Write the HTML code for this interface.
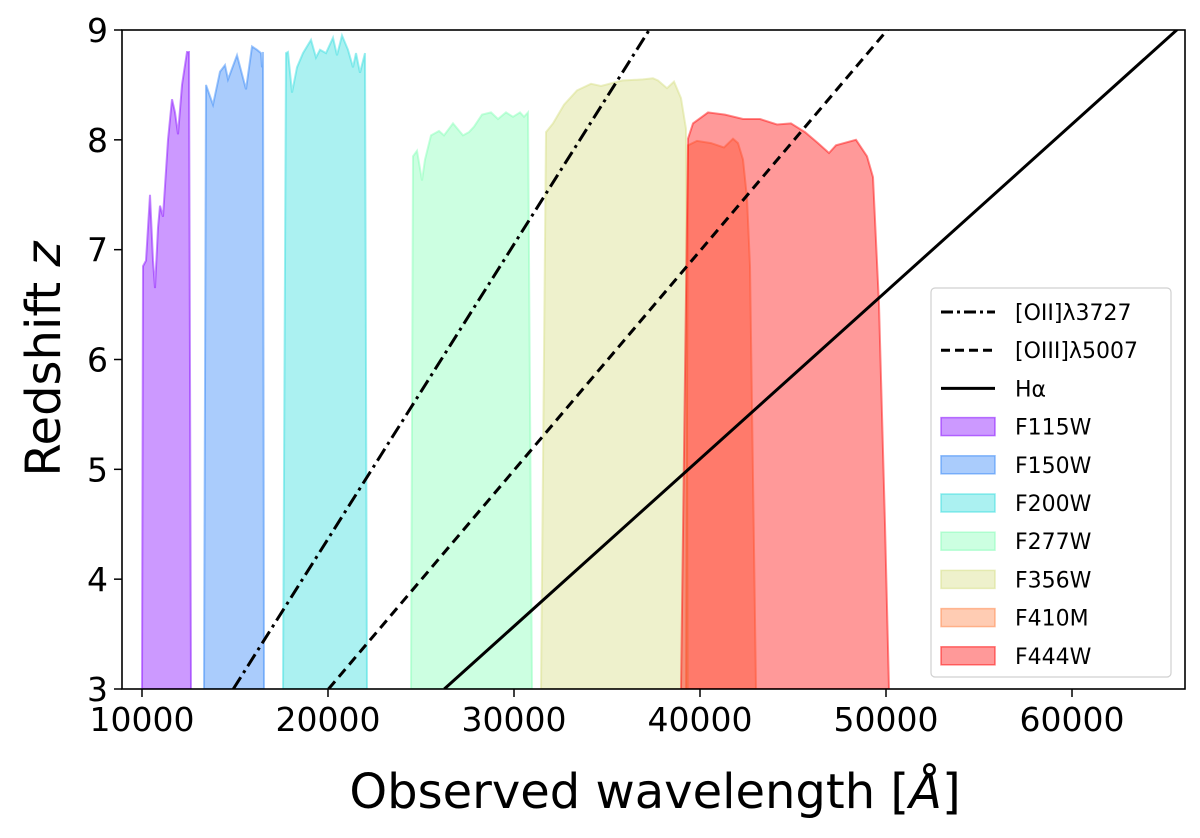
<!DOCTYPE html>
<html><head><meta charset="utf-8"><style>
html,body{margin:0;padding:0;background:#fff;}
svg{display:block;font-family:"DejaVu Sans","Liberation Sans",sans-serif;}
</style></head><body>
<svg id="chart" width="1200" height="838" viewBox="0 0 1200 838">
<defs><clipPath id="clip"><rect x="122" y="30" width="1063" height="659"/></clipPath></defs>
<g id="fills" clip-path="url(#clip)"></g>
<g id="lines" clip-path="url(#clip)"></g>
<rect x="122" y="30" width="1063" height="659" fill="none" stroke="#000" stroke-width="1.6"/>
<g id="ticks"></g>
<text x="655" y="808" font-size="48" text-anchor="middle">Observed wavelength [<tspan font-style="italic">Å</tspan>]</text>
<text transform="translate(60,359) rotate(-90)" font-size="48" text-anchor="middle">Redshift <tspan font-style="italic">z</tspan></text>
<g id="legend"></g>
</svg>
<script>
const xTicks=[10000,20000,30000,40000,50000,60000];
const yTicks=[3,4,5,6,7,8,9];
const lineNames=["[OII]λ3727","[OIII]λ5007","Hα"];
const lineRest=[3727,5007,6563];
const filterNames=["F115W","F150W","F200W","F277W","F356W","F410M","F444W"];
const filterColors=[[128,0,255],[42,128,247],[44,219,221],[128,254,179],[212,221,128],[255,128,64],[255,0,0]];
const f115Lam=[10000,10054,10215,10430,10591,10699,10860,10968,11129,11398,11613,11774,11935,12150,12419,12527,12634];
const f115Z=[3,6.85,6.9,7.5,6.9,6.65,7.2,7.4,7.3,8.0,8.37,8.25,8.05,8.5,8.8,8.8,3];
const f150Lam=[13333,13440,13817,14194,14462,14624,15108,15591,15914,16183,16398,16452,16505,16559];
const f150Z=[3,8.5,8.32,8.62,8.68,8.55,8.77,8.46,8.85,8.82,8.79,8.66,8.8,3];
const f200Lam=[17580,17742,17849,18065,18333,18656,19086,19355,19570,19892,20269,20484,20753,21075,21344,21505,21720,21989,22097];
const f200Z=[3,8.79,8.8,8.43,8.66,8.79,8.91,8.75,8.82,8.79,8.93,8.77,8.95,8.82,8.66,8.79,8.61,8.79,3];
const f277Lam=[24462,24570,24785,25054,25215,25538,25968,26237,26720,27258,27581,27849,28280,28763,29140,29570,29946,30323,30538,30753,30968];
const f277Z=[3,7.85,7.9,7.63,7.82,8.04,8.08,8.04,8.15,8.04,8.07,8.12,8.23,8.25,8.19,8.25,8.21,8.25,8.21,8.25,3];
const f356Lam=[31452,31720,32097,32688,33387,34140,34677,35806,36935,37473,37742,38226,38602,38978,39247,39355];
const f356Z=[3,8.07,8.15,8.32,8.45,8.51,8.49,8.54,8.55,8.56,8.54,8.47,8.53,8.38,8.1,3];
const f410Lam=[39247,39355,39839,40591,41290,41774,42043,42312,42527,42688,43011];
const f410Z=[3,7.95,7.99,7.97,7.93,8.01,7.97,7.82,7.47,6.85,3];
const f444Lam=[38978,39355,39624,40430,41344,42312,43226,44140,44892,45645,46344,46935,47312,48387,48978,49301,49624,49946,50161];
const f444Z=[3,8.01,8.15,8.25,8.23,8.19,8.19,8.14,8.15,8.07,7.97,7.88,7.95,8.0,7.85,7.66,6.5,4.5,3];
const filterLam=[f115Lam,f150Lam,f200Lam,f277Lam,f356Lam,f410Lam,f444Lam];
const filterZ=[f115Z,f150Z,f200Z,f277Z,f356Z,f410Z,f444Z];

const NS="http://www.w3.org/2000/svg";
const X0=122,X1=1185,Y0=30,Y1=689;
const xMin=8925,xMax=66075,zMin=3,zMax=9;
function xs(l){return X0+(l-xMin)/(xMax-xMin)*(X1-X0);}
function ys(z){return Y1-(z-zMin)/(zMax-zMin)*(Y1-Y0);}
function mk(tag,attrs,parent){const e=document.createElementNS(NS,tag);for(const k in attrs)e.setAttribute(k,attrs[k]);parent.appendChild(e);return e;}
function rgba(c,a){return `rgba(${c[0]},${c[1]},${c[2]},${a})`;}

const fills=document.getElementById('fills');
filterNames.forEach((n,i)=>{
  const pts=filterLam[i].map((l,j)=>xs(l).toFixed(1)+','+ys(filterZ[i][j]).toFixed(1));
  const p=mk('polygon',{points:pts.join(' '),fill:rgba(filterColors[i],0.4),stroke:rgba(filterColors[i],0.45),'stroke-width':2},fills);
  
  
});
const dashes=["14,5,3,5","10,6",""];
const lines=document.getElementById('lines');
lineRest.forEach((r,i)=>{
  const z1=zMin,z2=zMax+0.5;
  const l=mk('line',{x1:xs(r*(1+z1)),y1:ys(z1),x2:xs(r*(1+z2)),y2:ys(z2),stroke:'#000','stroke-width':3},lines);
  if(dashes[i])l.setAttribute('stroke-dasharray',dashes[i]);
  
  
});
const ticks=document.getElementById('ticks');
xTicks.forEach(v=>{
  const x=xs(v);
  const t=mk('line',{x1:x,y1:Y1,x2:x,y2:Y1+8,stroke:'#000','stroke-width':1.5},ticks);
  
  
  const tx=mk('text',{x:x,y:Y1+42,'font-size':33,'text-anchor':'middle'},ticks);
  tx.textContent=v;
  
  
});
yTicks.forEach(v=>{
  const y=ys(v);
  const t=mk('line',{x1:X0-8,y1:y,x2:X0,y2:y,stroke:'#000','stroke-width':1.5},ticks);
  
  
  const tx=mk('text',{x:X0-14,y:y+12,'font-size':33,'text-anchor':'end'},ticks);
  tx.textContent=v;
  
  
});
const lg=document.getElementById('legend');
const box=mk('rect',{x:931,y:288,width:240,height:389,rx:4,fill:'#fff','fill-opacity':0.85,stroke:'#d0d0d0','stroke-width':1.2},lg);


const rowH=38.2,firstY=312;
lineNames.forEach((n,i)=>{
  const y=firstY+i*rowH;
  const l=mk('line',{x1:941,y1:y,x2:995,y2:y,stroke:'#000','stroke-width':3},lg);
  if(dashes[i])l.setAttribute('stroke-dasharray',i==0?"12,4,3,4":"9,5");
  
  
  const t=mk('text',{x:1015,y:y+8,'font-size':22},lg);
  t.textContent=n;
  
  
});
filterNames.forEach((n,i)=>{
  const y=firstY+(i+3)*rowH;
  const r=mk('rect',{x:941,y:y-9,width:54,height:18,fill:rgba(filterColors[i],0.4),stroke:rgba(filterColors[i],0.5),'stroke-width':1.5},lg);
  
  
  const t=mk('text',{x:1015,y:y+8,'font-size':22},lg);
  t.textContent=n;
  
  
});
</script>
</body></html>
